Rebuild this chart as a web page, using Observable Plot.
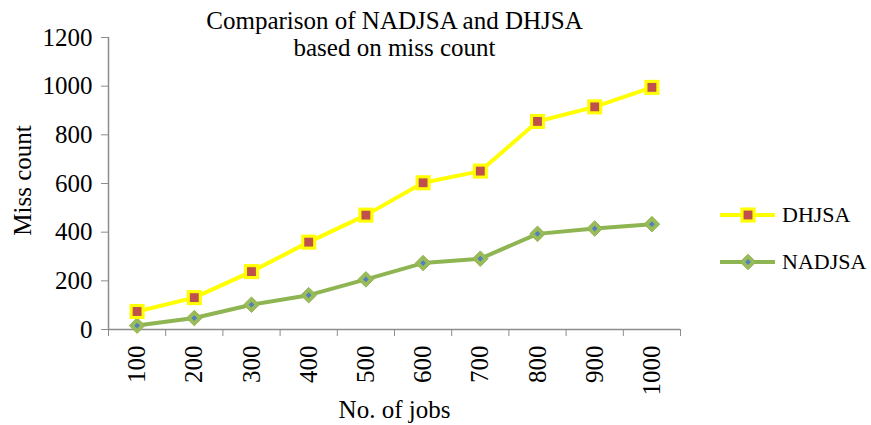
<!DOCTYPE html>
<html>
<head>
<meta charset="utf-8">
<script src="https://cdn.jsdelivr.net/npm/d3@7"></script>
<script src="https://cdn.jsdelivr.net/npm/@observablehq/plot@0.6"></script>
</head>
<body style="margin:0;background:#fff">
<div id="chart"></div>
<script>
const jobs = [100, 200, 300, 400, 500, 600, 700, 800, 900, 1000];
const dhjsa = [74, 131, 238, 359, 470, 603, 651, 855, 915, 995];
const nadjsa = [16, 47, 102, 141, 206, 273, 291, 393, 415, 433];
const yTicks = [0, 200, 400, 600, 800, 1000, 1200];
const xBounds = [50, 150, 250, 350, 450, 550, 650, 750, 850, 950, 1050];
const seriesNames = ["DHJSA", "NADJSA"];
const titleLines = ["Comparison of NADJSA and DHJSA", "based on miss count"];

const dataD = jobs.map((j, i) => ({jobs: j, value: dhjsa[i]}));
const dataN = jobs.map((j, i) => ({jobs: j, value: nadjsa[i]}));

const YELLOW = "#ffff00", RED = "#c0504d", GREEN = "#8fb553", GREEN_M = "#9bbb59", BLUE = "#4f81bd";
const AXIS = "#8c8c8c";
const FONT = "Liberation Serif";
const FS = 25;
const fmt = d => String(d);

const chart = Plot.plot({
  width: 871,
  height: 425,
  marginLeft: 108,
  marginRight: 191,
  marginTop: 37,
  marginBottom: 96,
  style: {fontFamily: FONT, fontSize: FS + "px"},
  x: {type: "linear", domain: [50, 1050]},
  y: {domain: [0, 1200]},
  marks: [
    Plot.axisY({ticks: yTicks, tickFormat: fmt, tickSize: 7, tickPadding: 9, stroke: AXIS, fontSize: FS, fontFamily: FONT, fill: "#000", label: null}),
    Plot.axisX({ticks: xBounds, tickSize: 7, tickFormat: () => "", stroke: AXIS, label: null}),
    Plot.axisX({ticks: jobs, tickFormat: fmt, tickSize: 0, tickPadding: 16, tickRotate: -90, fontSize: FS, fontFamily: FONT, fill: "#000", label: null}),
    Plot.ruleX([50], {stroke: AXIS, strokeWidth: 1.5}),
    Plot.ruleY([0], {stroke: AXIS, strokeWidth: 1.5}),
    Plot.lineY(dataN, {x: "jobs", y: "value", stroke: GREEN, strokeWidth: 4}),
    Plot.lineY(dataD, {x: "jobs", y: "value", stroke: YELLOW, strokeWidth: 4}),
    Plot.dot(dataN, {x: "jobs", y: "value", symbol: "diamond2", r: 7, fill: GREEN_M, stroke: GREEN, strokeWidth: 1}),
    Plot.dot(dataN, {x: "jobs", y: "value", symbol: "diamond2", r: 2.6, fill: BLUE}),
    Plot.dot(dataD, {x: "jobs", y: "value", symbol: "square", r: 8.5, fill: YELLOW}),
    Plot.dot(dataD, {x: "jobs", y: "value", symbol: "square", r: 5, fill: RED}),
    Plot.text([titleLines[0]], {frameAnchor: "top", dy: -9, lineAnchor: "bottom", fontSize: FS, fontFamily: FONT, fill: "#000"}),
    Plot.text([titleLines[1]], {frameAnchor: "top", dy: 18, lineAnchor: "bottom", fontSize: FS, fontFamily: FONT, fill: "#000"}),
    Plot.text(["Miss count"], {frameAnchor: "left", dx: -86, dy: -3, rotate: -90, textAnchor: "middle", fontSize: FS, fontFamily: FONT, fill: "#000"}),
    Plot.text(["No. of jobs"], {frameAnchor: "bottom", dy: 88, lineAnchor: "bottom", fontSize: FS, fontFamily: FONT, fill: "#000"})
  ]
});
document.getElementById("chart").appendChild(chart);

// Legend
const svg = d3.select(chart);
const leg = svg.append("g").attr("font-size", 22).attr("font-family", FONT).attr("text-anchor", "start");
const items = [
  {name: seriesNames[0], y: 215, line: YELLOW},
  {name: seriesNames[1], y: 262, line: GREEN}
];
items.forEach((it, i) => {
  const g = leg.append("g");
  g.append("line").attr("x1", 720).attr("x2", 775).attr("y1", it.y).attr("y2", it.y)
    .attr("stroke", it.line).attr("stroke-width", 4);
  if (i === 0) {
    g.append("path").attr("d", d3.symbol(d3.symbolSquare, Math.PI * 8.5 * 8.5)()).attr("transform", `translate(748,${it.y})`).attr("fill", YELLOW);
    g.append("path").attr("d", d3.symbol(d3.symbolSquare, Math.PI * 5 * 5)()).attr("transform", `translate(748,${it.y})`).attr("fill", RED);
  } else {
    g.append("path").attr("d", d3.symbol(d3.symbolDiamond2, Math.PI * 7 * 7)()).attr("transform", `translate(748,${it.y})`).attr("fill", GREEN_M).attr("stroke", GREEN);
    g.append("path").attr("d", d3.symbol(d3.symbolDiamond2, Math.PI * 2.6 * 2.6)()).attr("transform", `translate(748,${it.y})`).attr("fill", BLUE);
  }
  g.append("text").attr("x", 782).attr("y", it.y).attr("dy", "0.34em").attr("fill", "#000").text(it.name);
});
</script>
</body>
</html>
